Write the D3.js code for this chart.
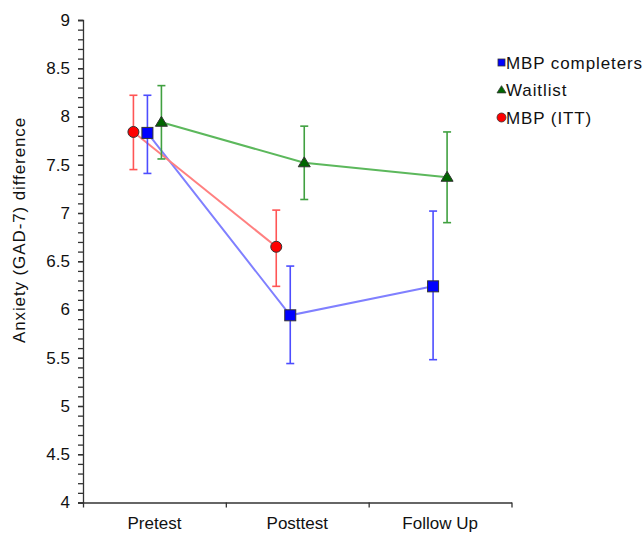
<!DOCTYPE html>
<html>
<head>
<meta charset="utf-8">
<script src="https://cdn.jsdelivr.net/npm/d3@7"></script>
<style>
  body { margin: 0; background: #fff; }
  text { font-family: "Liberation Sans", Arial, sans-serif; }
</style>
</head>
<body>
<div id="chart"></div>
<script>
const layout = {
    width: 644,
    height: 534,
    left: 83,
    right: 511.5,
    top: 20,
    bottom: 502.5,
    fontSize: 17
  };

// data
const phases = ["Pretest", "Posttest", "Follow Up"];
const completersMean = [7.83, 5.94, 6.24];
const completersLow = [7.41, 5.44, 5.48];
const completersHigh = [8.22, 6.45, 7.02];
const waitlistMean = [7.94, 7.52, 7.37];
const waitlistLow = [7.56, 7.14, 6.90];
const waitlistHigh = [8.32, 7.90, 7.84];
const ittMean = [7.84, 6.65];
const ittLow = [7.45, 6.24];
const ittHigh = [8.22, 7.03];
const yTicks = [4, 4.5, 5, 5.5, 6, 6.5, 7, 7.5, 8, 8.5, 9];

let series = [
    {name: "MBP completers", mean: completersMean, low: completersLow, high: completersHigh,
     shape: "square", fill: "#0000ff", line: "#8080ff", err: "#4d4dff", offset: -7},
    {name: "Waitlist", mean: waitlistMean, low: waitlistLow, high: waitlistHigh,
     shape: "triangle", fill: "#006600", line: "#5cb85c", err: "#40a040", offset: 7},
    {name: "MBP (ITT)", mean: ittMean, low: ittLow, high: ittHigh,
     shape: "circle", fill: "#ff0000", line: "#ff8080", err: "#ff5555", offset: -21}
];

let svg = d3.select("#chart").append("svg")
    .attr("width", layout.width)
    .attr("height", layout.height);

let xScale = d3.scaleBand()
    .domain(phases)
    .range([layout.left, layout.right]);
let yScale = d3.scaleLinear()
    .domain([4, 9])
    .range([layout.bottom, layout.top]);

// y axis: minor ticks every 0.1, labelled ticks every 0.5
let yMinor = svg.append("g")
    .attr("transform", `translate(${layout.left},0)`)
    .call(d3.axisLeft(yScale).tickValues(d3.range(40, 91).map(d => d / 10)).tickSize(5).tickFormat(""));
yMinor.selectAll("line, .domain").attr("stroke", "#333").attr("stroke-width", 1.3);

let yAxis = svg.append("g")
    .attr("transform", `translate(${layout.left},0)`)
    .call(d3.axisLeft(yScale).tickValues(yTicks).tickSize(5).tickPadding(8).tickFormat(d3.format("")));
yAxis.select(".domain").remove();
yAxis.selectAll("line").attr("stroke", "#333").attr("stroke-width", 1.3);
yAxis.selectAll("text").attr("fill", "#111").attr("font-size", layout.fontSize);

// x axis: ticks on category boundaries, labels centred
let xEdges = d3.scaleLinear().domain([0, phases.length]).range([layout.left, layout.right]);
let xTickAxis = svg.append("g")
    .attr("transform", `translate(0,${layout.bottom})`)
    .call(d3.axisBottom(xEdges).tickValues(d3.range(0, phases.length + 1)).tickSize(5).tickSizeOuter(0).tickFormat(""));
xTickAxis.selectAll("line, .domain").attr("stroke", "#333").attr("stroke-width", 1.3);

let xAxis = svg.append("g")
    .attr("transform", `translate(0,${layout.bottom})`)
    .call(d3.axisBottom(xScale).tickSize(0).tickPadding(0));
xAxis.select(".domain").remove();
xAxis.selectAll("text")
    .attr("y", 26.5)
    .attr("dy", 0)
    .attr("fill", "#111")
    .attr("font-size", layout.fontSize);

svg.append("text")
    .attr("transform", "translate(25,230) rotate(-90)")
    .attr("text-anchor", "middle")
    .attr("font-size", layout.fontSize)
    .attr("letter-spacing", 0.9)
    .attr("fill", "#111")
    .text("Anxiety (GAD-7) difference");

function px(s, i) {
    return xScale(phases[i]) + xScale.bandwidth() / 2 + s.offset;
}

// connecting lines
series.forEach(s => {
    svg.append("path")
        .datum(s.mean)
        .attr("fill", "none")
        .attr("stroke", s.line)
        .attr("stroke-width", 2)
        .attr("d", d3.line().x((d, i) => px(s, i)).y(d => yScale(d)));
});

// error bars
series.forEach(s => {
    let g = svg.append("g").attr("stroke", s.err).attr("stroke-width", 1.6);
    s.mean.forEach((m, i) => {
        let x = px(s, i);
        g.append("line").attr("x1", x).attr("x2", x)
            .attr("y1", yScale(s.low[i])).attr("y2", yScale(s.high[i]));
        [s.low[i], s.high[i]].forEach(v => {
            g.append("line").attr("x1", x - 4).attr("x2", x + 4)
                .attr("y1", yScale(v)).attr("y2", yScale(v));
        });
    });
});

function drawMarker(g, shape, x, y, size, fill) {
    if (shape === "square") {
        g.append("rect").attr("x", x - size / 2).attr("y", y - size / 2)
            .attr("width", size).attr("height", size);
    } else if (shape === "triangle") {
        let h = size * 0.9;
        g.append("path")
            .attr("d", `M${x},${y - h * 0.6}L${x + size / 2 + 0.5},${y + h * 0.4}L${x - size / 2 - 0.5},${y + h * 0.4}Z`);
    } else {
        g.append("circle").attr("cx", x).attr("cy", y).attr("r", size / 2);
    }
    g.selectAll("*").attr("fill", fill);
}

// markers
series.forEach(s => {
    let g = svg.append("g").attr("stroke", "#333").attr("stroke-width", 1);
    s.mean.forEach((m, i) => {
        drawMarker(g, s.shape, px(s, i), yScale(m), 11, s.fill);
    });
});

// legend
let legend = svg.append("g").attr("transform", "translate(501.5,62.5)");
let legendSizes = {square: 7, triangle: 8, circle: 9};
series.forEach((s, i) => {
    let row = legend.append("g").attr("transform", `translate(0,${i * 27.5})`);
    let mk = row.append("g").attr("stroke", "#333").attr("stroke-width", 0.8);
    drawMarker(mk, s.shape, 0, 0, legendSizes[s.shape], s.fill);
    row.append("text")
        .attr("x", 4.5)
        .attr("y", 6)
        .attr("font-size", layout.fontSize)
        .attr("letter-spacing", 0.9)
        .attr("fill", "#111")
        .text(s.name);
});
</script>
</body>
</html>
